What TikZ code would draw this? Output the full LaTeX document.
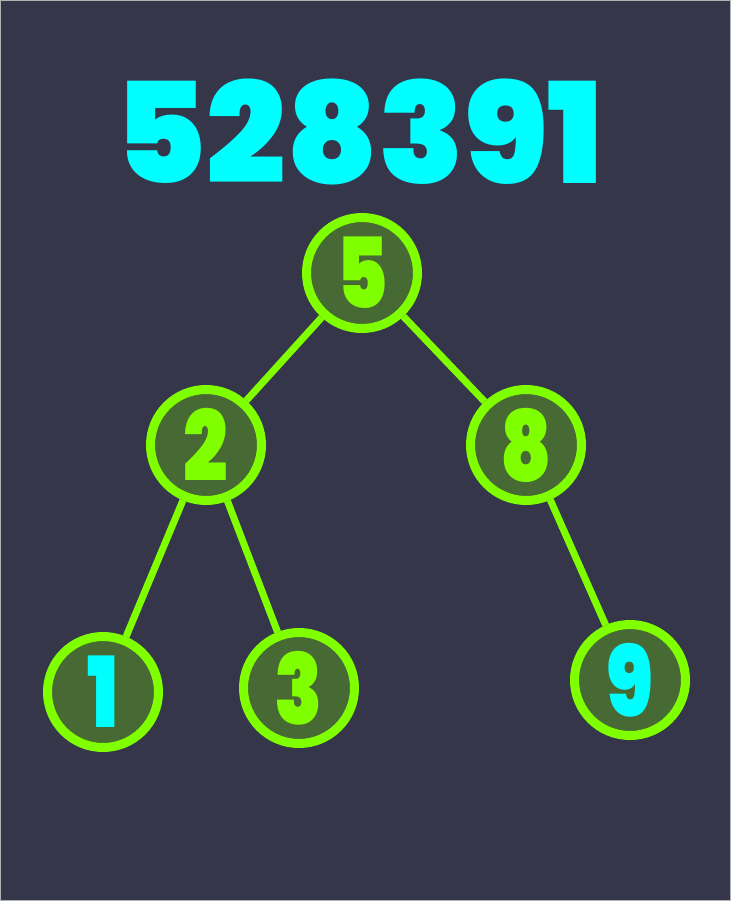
\documentclass[tikz,border=0pt]{standalone}
\usepackage{fontspec}
\newfontfamily\titlefont{Poppins Black}
\newfontfamily\keyfont{Poppins Black}[FakeStretch=0.8]
\definecolor{bgdark}{HTML}{35364A}
\definecolor{limegreen}{HTML}{7FFF00}
\definecolor{mossfill}{HTML}{476A35}
\definecolor{aqua}{HTML}{00FFFF}
\tikzset{
  keynode/.style={circle,draw=limegreen,fill=mossfill,line width=9pt,minimum size=111pt,inner sep=0pt,text=limegreen,font=\keyfont\fontsize{98}{98}\selectfont},
  branch/.style={draw=limegreen,line width=7pt}
}

\begin{document}
\begin{tikzpicture}[x=1pt,y=-1pt]
    \fill[bgdark,draw=gray!60,line width=1pt] (0.5,0.5) rectangle (730.5,900.5);
    \useasboundingbox (0,0) rectangle (731,901);
    \node[text=aqua,font=\titlefont\fontsize{140}{140}\selectfont] (title) at (359,132) {528391};
    \node[keynode] (k5) at (362,273) {5};
    \node[keynode] (k2) at (206,445) {2};
    \node[keynode] (k8) at (526,445) {8};
    \node[keynode] (k1) at (103,692) [text=aqua]{1};
    \node[keynode] (k3) at (299,688) {3};
    \node[keynode] (k9) at (630,680) [text=aqua]{9};
    \draw[branch] (k5)--(k2);
    \draw[branch] (k5)--(k8);
    \draw[branch] (k2)--(k1);
    \draw[branch] (k2)--(k3);
    \draw[branch] (k8)--(k9);
  \end{tikzpicture}
\end{document}
